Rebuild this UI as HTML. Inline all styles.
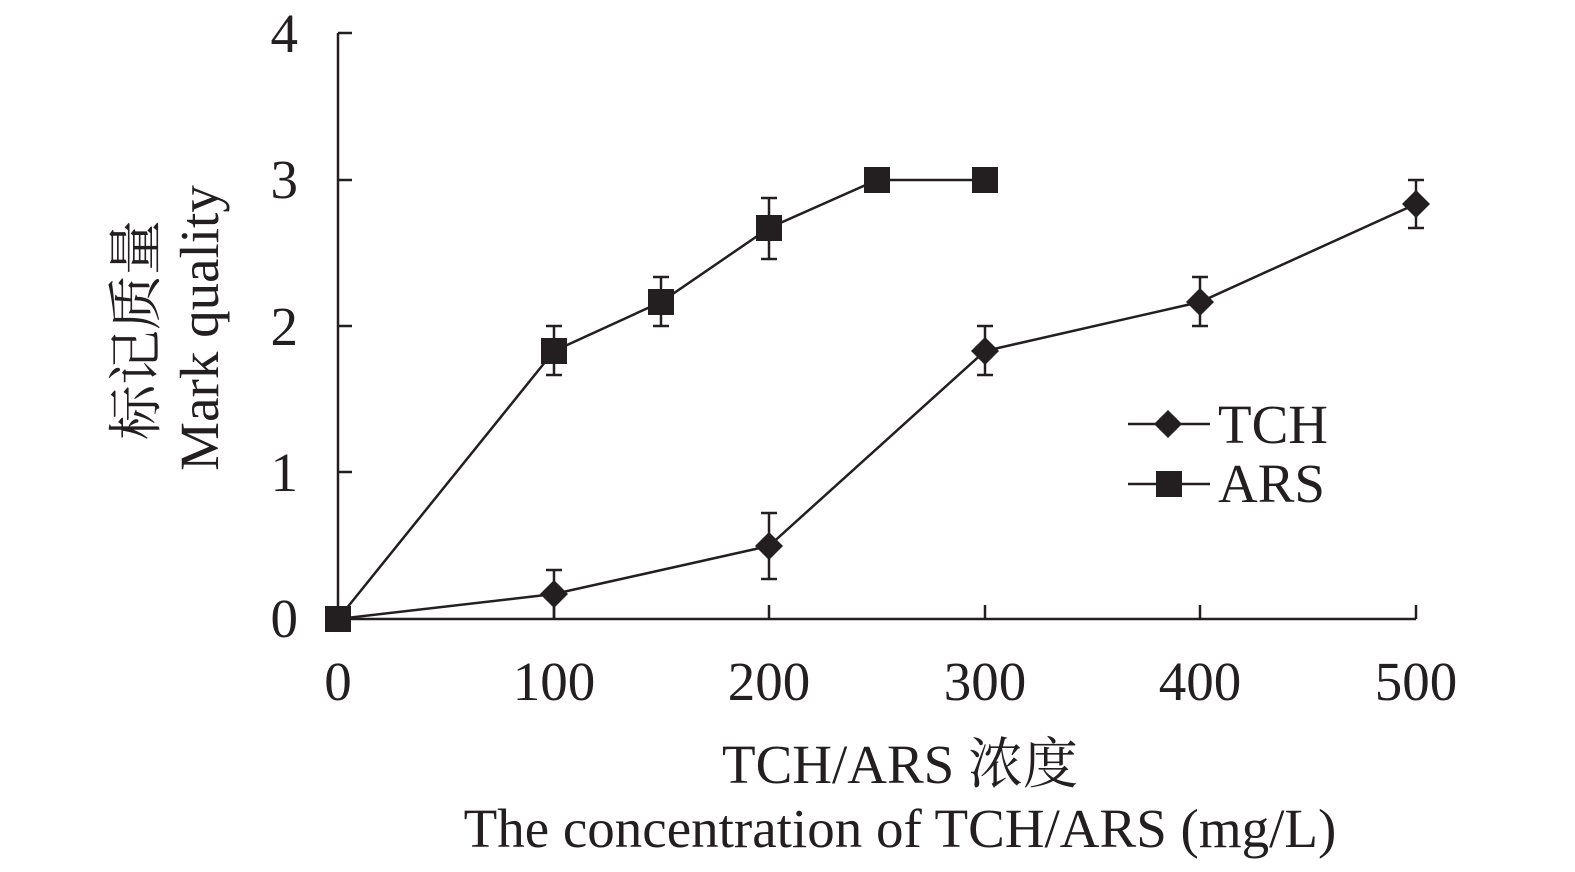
<!DOCTYPE html>
<html><head><meta charset="utf-8"><style>
html,body{margin:0;padding:0;background:#fff;}
svg{display:block;}
text{font-family:"Liberation Serif","Noto Serif CJK SC",serif;fill:#231f20;}
</style></head><body>
<svg width="1575" height="872" viewBox="0 0 1575 872" xmlns="http://www.w3.org/2000/svg">
<g stroke="#231f20" stroke-width="2.5" fill="none">
<line x1="338" y1="33" x2="338" y2="619"/>
<line x1="338" y1="619" x2="1416" y2="619"/>
<line x1="338" y1="33" x2="352" y2="33"/>
<line x1="338" y1="180" x2="352" y2="180"/>
<line x1="338" y1="326" x2="352" y2="326"/>
<line x1="338" y1="472" x2="352" y2="472"/>
<line x1="554" y1="619" x2="554" y2="605"/>
<line x1="769" y1="619" x2="769" y2="605"/>
<line x1="985" y1="619" x2="985" y2="605"/>
<line x1="1200" y1="619" x2="1200" y2="605"/>
<line x1="1416" y1="619" x2="1416" y2="605"/>
<polyline points="338,619 554,351 661,302 769,228 877,180 985,180"/>
<polyline points="338,619 554,594 769,546 985,351 1200,302 1416,204"/>
<path d="M554,375V326M546,375H562M546,326H562
M661,326V277M653,326H669M653,277H669
M769,259V198M761,259H777M761,198H777
M554,619V570M546,570H562
M769,579V513M761,579H777M761,513H777
M985,375V326M977,375H993M977,326H993
M1200,326V277M1192,326H1208M1192,277H1208
M1416,228V180M1408,228H1424M1408,180H1424"/>
<line x1="1128" y1="424" x2="1210" y2="424"/>
<line x1="1128" y1="484" x2="1210" y2="484"/>
</g>
<g fill="#231f20">
<rect x="325" y="606" width="26" height="26"/>
<rect x="541" y="338" width="26" height="26"/>
<rect x="648" y="289" width="26" height="26"/>
<rect x="756" y="215" width="26" height="26"/>
<rect x="864" y="167" width="26" height="26"/>
<rect x="972" y="167" width="26" height="26"/>
<rect x="1156" y="471" width="26" height="26"/>
<path d="M554,580l14,14l-14,14l-14,-14z M769,532l14,14l-14,14l-14,-14z M985,337l14,14l-14,14l-14,-14z M1200,288l14,14l-14,14l-14,-14z M1416,190l14,14l-14,14l-14,-14z M1168,410l14,14l-14,14l-14,-14z"/>
</g>
<g font-size="55" text-anchor="end">
<text x="298" y="52">4</text>
<text x="298" y="198">3</text>
<text x="298" y="345">2</text>
<text x="298" y="491">1</text>
<text x="298" y="637">0</text>
</g>
<g font-size="55" text-anchor="middle">
<text x="338" y="700">0</text>
<text x="554" y="700">100</text>
<text x="769" y="700">200</text>
<text x="985" y="700">300</text>
<text x="1200" y="700">400</text>
<text x="1416" y="700">500</text>
<text x="900" y="783">TCH/ARS 浓度</text>
<text x="900" y="847">The concentration of TCH/ARS (mg/L)</text>
</g>
<g font-size="55">
<text x="1218" y="443">TCH</text>
<text x="1218" y="502">ARS</text>
</g>
<g font-size="55" text-anchor="middle">
<text transform="translate(155,330) rotate(-90)">标记质量</text>
<text transform="translate(218,328) rotate(-90)">Mark quality</text>
</g>
</svg>
</body></html>
